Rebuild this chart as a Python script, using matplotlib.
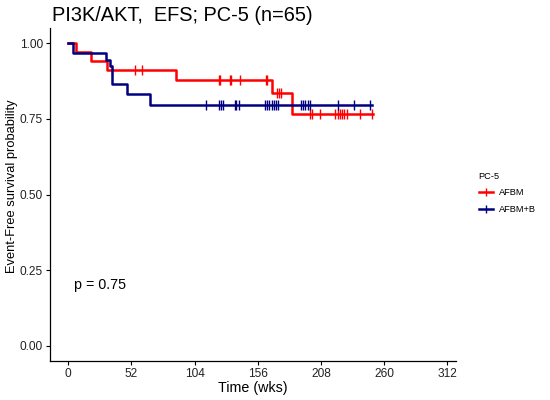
import numpy as np
import matplotlib.pyplot as plt
from matplotlib.lines import Line2D

plt.rcParams['font.family'] = ['Liberation Sans', 'DejaVu Sans']

# AFBM (red): step times (wks) and survival after each step
afbm_t = [0, 6, 19, 32, 89, 168, 184, 251]
afbm_s = [1.0, 0.971, 0.941, 0.912, 0.879, 0.834, 0.766, 0.766]
afbm_cens = [36, 55, 60.6, 123.7, 124.5, 133.3, 134, 141.6, 162.7, 163.8,
             171.8, 173.1, 175.1, 198.6, 200.6, 207.4, 219.8, 221.6, 223.3,
             225.3, 227.2, 229.4, 240.3, 250]

# AFBM+B (navy)
afbmb_t = [0, 4, 31, 34, 36, 48, 67, 250]
afbmb_s = [1.0, 0.968, 0.945, 0.925, 0.866, 0.833, 0.797, 0.797]
afbmb_cens = [113.3, 124.3, 125.7, 127, 136.9, 138.3, 140.2, 161.6, 163.5,
              165.4, 167.6, 169.5, 171.2, 173, 191.5, 193.2, 195, 197, 199.2,
              221.6, 234.8, 248.6]

groups = ['AFBM', 'AFBM+B']
colors = ['#FF0000', '#000080']

fig = plt.figure(figsize=(5.5, 4), dpi=100)
ax = fig.add_axes([0.0909, 0.0975, 0.738, 0.8325])

for t, s, c, col in [(afbm_t, afbm_s, afbm_cens, colors[0]),
                     (afbmb_t, afbmb_s, afbmb_cens, colors[1])]:
    ax.step(t, s, where='post', color=col, lw=1.8)
    idx = np.searchsorted(t, c, side='right') - 1
    ax.plot(c, np.array(s)[idx], ls='none', marker='|', ms=6.5, mew=1.0,
            color=col)

ax.set_xlim(-15, 319)
ax.set_ylim(-0.05, 1.05)
ax.set_xticks([0, 52, 104, 156, 208, 260, 312])
ax.set_yticks([0, 0.25, 0.5, 0.75, 1.0])
ax.set_yticklabels(['0.00', '0.25', '0.50', '0.75', '1.00'])
ax.tick_params(labelsize=8.6, length=3, width=0.8, color='black',
               labelcolor='#222222', pad=2)
for side in ['top', 'right']:
    ax.spines[side].set_visible(False)
for side in ['left', 'bottom']:
    ax.spines[side].set_linewidth(0.9)

ax.set_xlabel('Time (wks)', fontsize=10.3, labelpad=1)
ax.set_ylabel('Event-Free survival probability', fontsize=9.3)
ax.yaxis.set_label_coords(-0.079, 0.525)
ax.text(5, 0.2, 'p = 0.75', fontsize=10.3, ha='left', va='center')

fig.text(0.094, 0.962, 'PI3K/AKT,  EFS; PC-5 (n=65)', fontsize=14.4,
         ha='left', va='center')

handles = [Line2D([], [], color=col, lw=1.8, marker='|', ms=5.5, mew=1.0)
           for col in colors]
leg = fig.legend(handles, groups, title='PC-5', loc='upper left',
                 bbox_to_anchor=(0.855, 0.592), frameon=False, fontsize=6.7,
                 title_fontsize=6.7, handlelength=1.5, handletextpad=0.7,
                 labelspacing=0.85)
leg._legend_box.align = 'left'

fig.savefig('out.png', dpi=100)
